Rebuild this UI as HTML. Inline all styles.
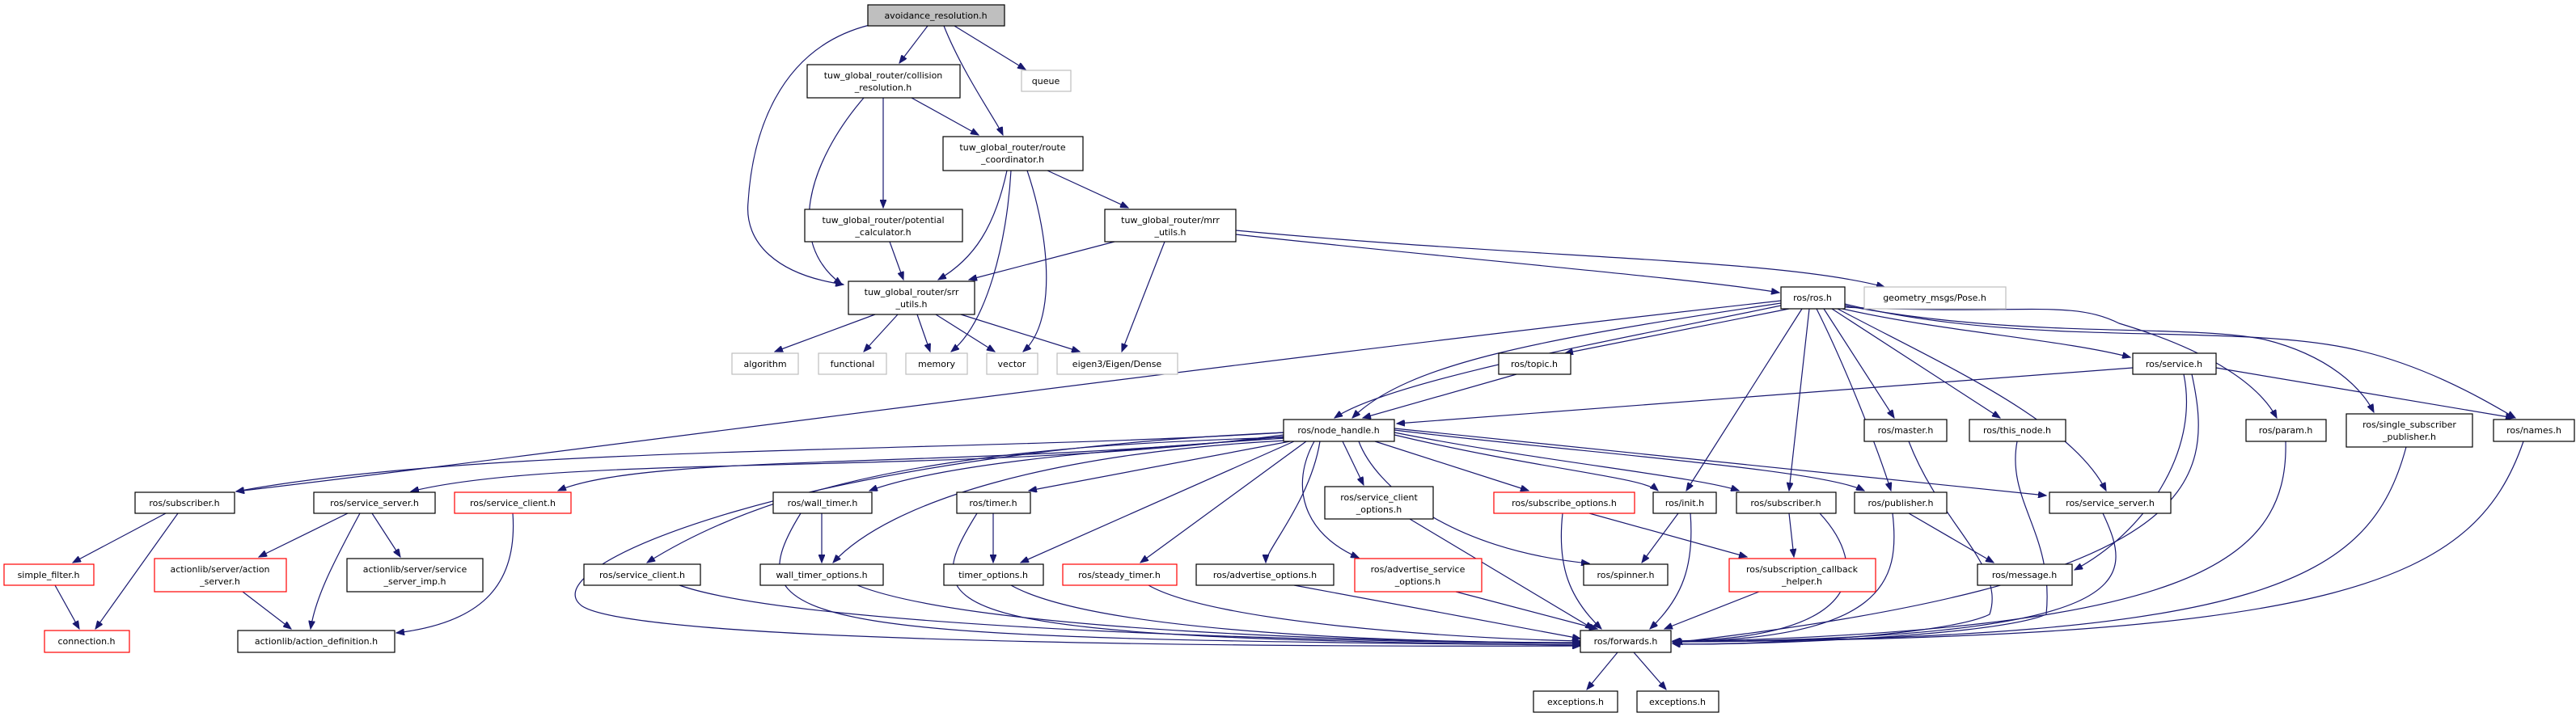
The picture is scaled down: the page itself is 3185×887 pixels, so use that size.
<!DOCTYPE html>
<html><head><meta charset="utf-8"><style>
html,body{margin:0;padding:0;background:#fff;}
svg{display:block;}
text{font-family:"DejaVu Sans","Liberation Sans",sans-serif;font-size:11px;fill:#000;text-anchor:middle;}
.n{fill:#fff;stroke:#000;stroke-width:1.2;}
.g{fill:#fff;stroke:#bfbfbf;stroke-width:1.2;}
.r{fill:#fff;stroke:#ff0000;stroke-width:1.2;}
.e{fill:none;stroke:#191970;stroke-width:1.2;}
</style></head><body>
<svg width="3185" height="887" viewBox="0 0 3185 887" xmlns="http://www.w3.org/2000/svg">
<defs><marker id="a" markerWidth="11" markerHeight="8" refX="10" refY="4" orient="auto" markerUnits="userSpaceOnUse"><path d="M0,0 L10,4 L0,8 z" fill="#191970" stroke="#191970"/></marker></defs>
<g marker-end="url(#a)">
<path class="e" d="M1075,31 C960,60 930,170 925,250 C920,300 960,340 1043,352"/>
<path class="e" d="M1147,32 L1112,78"/>
<path class="e" d="M1167,32 C1190,90 1232,150 1240,167"/>
<path class="e" d="M1180,32 L1268,86"/>
<path class="e" d="M1068,121 C1000,200 970,300 1041,352"/>
<path class="e" d="M1092,121 L1092,257"/>
<path class="e" d="M1127,121 L1210,167"/>
<path class="e" d="M1245,211 C1230,280 1205,320 1160,346"/>
<path class="e" d="M1250,211 C1245,300 1220,400 1176,435"/>
<path class="e" d="M1270,211 C1300,300 1305,400 1265,435"/>
<path class="e" d="M1295,211 L1395,257"/>
<path class="e" d="M1100,299 L1117,346"/>
<path class="e" d="M1378,299 L1198,346"/>
<path class="e" d="M1440,299 L1387,435"/>
<path class="e" d="M1528,290 C1800,320 2100,345 2200,362"/>
<path class="e" d="M1528,285 C1900,320 2200,320 2330,355"/>
<path class="e" d="M1082,389 L958,435"/>
<path class="e" d="M1110,389 L1068,435"/>
<path class="e" d="M1134,389 L1150,435"/>
<path class="e" d="M1157,389 L1230,435"/>
<path class="e" d="M1188,389 L1335,435"/>
<path class="e" d="M2202,372 C1500,450 700,560 292,608"/>
<path class="e" d="M2202,375 C1900,420 1740,450 1672,517"/>
<path class="e" d="M2202,378 C2000,420 1720,470 1650,517"/>
<path class="e" d="M2212,382 L1935,437"/>
<path class="e" d="M2228,382 L2085,607"/>
<path class="e" d="M2237,382 L2212,607"/>
<path class="e" d="M2246,382 C2280,450 2320,550 2338,607"/>
<path class="e" d="M2255,382 L2342,517"/>
<path class="e" d="M2265,382 L2473,517"/>
<path class="e" d="M2272,382 C2400,450 2560,520 2604,607"/>
<path class="e" d="M2278,382 C2400,410 2550,420 2634,442"/>
<path class="e" d="M2281,380 C2500,390 2560,370 2620,400 C2720,430 2790,470 2815,517"/>
<path class="e" d="M2281,378 C2500,420 2700,400 2800,420 C2880,440 2920,480 2935,510"/>
<path class="e" d="M2281,376 C2500,430 2750,400 2900,430 C3000,450 3080,500 3110,517"/>
<path class="e" d="M1875,463 L1685,517"/>
<path class="e" d="M2637,455 L1727,524"/>
<path class="e" d="M2700,463 C2720,560 2650,660 2565,705"/>
<path class="e" d="M2710,463 C2740,600 2720,720 2070,795"/>
<path class="e" d="M2740,455 L3108,517"/>
<path class="e" d="M2360,546 C2400,650 2480,700 2460,760 C2400,790 2100,800 2068,796"/>
<path class="e" d="M2494,546 C2480,620 2540,660 2530,760 C2460,790 2100,800 2068,796"/>
<path class="e" d="M2826,546 C2830,700 2700,780 2068,794"/>
<path class="e" d="M2975,553 C2930,720 2800,790 2068,794"/>
<path class="e" d="M3120,546 C3060,720 2900,790 2068,794"/>
<path class="e" d="M2600,635 C2640,720 2650,790 2068,794"/>
<path class="e" d="M2340,635 C2350,720 2330,790 2068,794"/>
<path class="e" d="M2360,635 L2465,696"/>
<path class="e" d="M2212,635 L2218,689"/>
<path class="e" d="M2250,635 C2310,700 2310,790 2068,793"/>
<path class="e" d="M2175,732 L2058,778"/>
<path class="e" d="M2075,635 L2030,696"/>
<path class="e" d="M2090,635 C2095,700 2080,740 2040,778"/>
<path class="e" d="M1932,635 C1925,700 1940,740 1980,778"/>
<path class="e" d="M1965,635 L2160,689"/>
<path class="e" d="M1800,732 L1975,778"/>
<path class="e" d="M1743,642 L1970,778"/>
<path class="e" d="M1600,724 L1954,790"/>
<path class="e" d="M1420,724 C1500,770 1800,790 1954,793"/>
<path class="e" d="M1250,724 C1350,780 1700,795 1954,795"/>
<path class="e" d="M1060,724 C1200,780 1700,795 1954,795"/>
<path class="e" d="M840,724 C1000,780 1700,795 1954,796"/>
<path class="e" d="M990,635 C900,780 1000,790 1954,798"/>
<path class="e" d="M1208,635 C1130,760 1150,790 1954,798"/>
<path class="e" d="M1016,635 L1016,696"/>
<path class="e" d="M1228,635 L1228,696"/>
<path class="e" d="M1590,535 C1000,560 650,700 720,750 C800,800 1700,800 1954,799"/>
<path class="e" d="M1587,541 C1300,550 1000,570 800,696"/>
<path class="e" d="M1590,545 C1300,560 1100,620 1030,696"/>
<path class="e" d="M1600,546 L1262,696"/>
<path class="e" d="M1615,546 L1410,696"/>
<path class="e" d="M1632,546 C1620,620 1565,680 1565,696"/>
<path class="e" d="M1625,546 C1595,600 1610,660 1680,690"/>
<path class="e" d="M1660,546 L1686,600"/>
<path class="e" d="M1680,546 C1700,600 1790,680 1965,697"/>
<path class="e" d="M1700,546 L1890,607"/>
<path class="e" d="M1724,538 C1900,580 2030,590 2050,607"/>
<path class="e" d="M1724,535 C1900,570 2100,590 2150,607"/>
<path class="e" d="M1724,532 C1950,560 2250,580 2305,607"/>
<path class="e" d="M1724,530 L2530,613"/>
<path class="e" d="M1587,535 C1200,560 600,550 292,608"/>
<path class="e" d="M1587,538 C1200,590 700,560 508,608"/>
<path class="e" d="M1587,540 C1200,580 800,560 690,607"/>
<path class="e" d="M1590,542 C1300,560 1150,580 1075,607"/>
<path class="e" d="M1595,546 L1272,607"/>
<path class="e" d="M205,635 L90,696"/>
<path class="e" d="M220,635 L118,778"/>
<path class="e" d="M68,724 L98,778"/>
<path class="e" d="M430,635 L320,689"/>
<path class="e" d="M445,635 C410,700 390,740 384,778"/>
<path class="e" d="M460,635 L495,689"/>
<path class="e" d="M634,635 C640,720 600,770 490,783"/>
<path class="e" d="M300,732 L360,778"/>
<path class="e" d="M2000,807 L1962,853"/>
<path class="e" d="M2020,807 L2060,853"/>
</g>
<!-- nodes -->
<rect x="1073" y="6" width="169" height="26" fill="#bfbfbf" stroke="#000" stroke-width="1.2"/><text x="1157" y="23">avoidance_resolution.h</text>
<rect class="n" x="998" y="80" width="189" height="41"/><text x="1092" y="97">tuw_global_router/collision</text><text x="1092" y="112">_resolution.h</text>
<rect class="g" x="1263" y="87" width="61" height="26"/><text x="1293" y="104">queue</text>
<rect class="n" x="1166" y="169" width="173" height="42"/><text x="1252" y="186">tuw_global_router/route</text><text x="1252" y="201">_coordinator.h</text>
<rect class="n" x="995" y="259" width="195" height="40"/><text x="1092" y="276">tuw_global_router/potential</text><text x="1092" y="291">_calculator.h</text>
<rect class="n" x="1366" y="259" width="162" height="40"/><text x="1447" y="276">tuw_global_router/mrr</text><text x="1447" y="291">_utils.h</text>
<rect class="n" x="1049" y="348" width="156" height="41"/><text x="1127" y="365">tuw_global_router/srr</text><text x="1127" y="380">_utils.h</text>
<rect class="g" x="905" y="437" width="82" height="26"/><text x="946" y="454">algorithm</text>
<rect class="g" x="1012" y="437" width="84" height="26"/><text x="1054" y="454">functional</text>
<rect class="g" x="1120" y="437" width="76" height="26"/><text x="1158" y="454">memory</text>
<rect class="g" x="1220" y="437" width="63" height="26"/><text x="1251" y="454">vector</text>
<rect class="g" x="1307" y="437" width="149" height="26"/><text x="1381" y="454">eigen3/Eigen/Dense</text>
<rect class="n" x="2202" y="355" width="79" height="27"/><text x="2241" y="372">ros/ros.h</text>
<rect class="g" x="2305" y="355" width="175" height="27"/><text x="2392" y="372">geometry_msgs/Pose.h</text>
<rect class="n" x="1853" y="437" width="89" height="26"/><text x="1897" y="454">ros/topic.h</text>
<rect class="n" x="2637" y="437" width="103" height="26"/><text x="2688" y="454">ros/service.h</text>
<rect class="n" x="1587" y="519" width="137" height="27"/><text x="1655" y="536">ros/node_handle.h</text>
<rect class="n" x="2305" y="519" width="102" height="27"/><text x="2356" y="536">ros/master.h</text>
<rect class="n" x="2435" y="519" width="119" height="27"/><text x="2494" y="536">ros/this_node.h</text>
<rect class="n" x="2777" y="519" width="99" height="27"/><text x="2826" y="536">ros/param.h</text>
<rect class="n" x="2901" y="512" width="156" height="41"/><text x="2979" y="529">ros/single_subscriber</text><text x="2979" y="544">_publisher.h</text>
<rect class="n" x="3083" y="519" width="100" height="27"/><text x="3133" y="536">ros/names.h</text>
<rect class="n" x="167" y="609" width="123" height="26"/><text x="228" y="626">ros/subscriber.h</text>
<rect class="n" x="388" y="609" width="150" height="26"/><text x="463" y="626">ros/service_server.h</text>
<rect class="r" x="562" y="609" width="144" height="26"/><text x="634" y="626">ros/service_client.h</text>
<rect class="n" x="956" y="609" width="122" height="26"/><text x="1017" y="626">ros/wall_timer.h</text>
<rect class="n" x="1183" y="609" width="91" height="26"/><text x="1228" y="626">ros/timer.h</text>
<rect class="n" x="1638" y="602" width="134" height="40"/><text x="1705" y="619">ros/service_client</text><text x="1705" y="634">_options.h</text>
<rect class="r" x="1847" y="609" width="174" height="26"/><text x="1934" y="626">ros/subscribe_options.h</text>
<rect class="n" x="2044" y="609" width="78" height="26"/><text x="2083" y="626">ros/init.h</text>
<rect class="n" x="2147" y="609" width="123" height="26"/><text x="2208" y="626">ros/subscriber.h</text>
<rect class="n" x="2293" y="609" width="114" height="26"/><text x="2350" y="626">ros/publisher.h</text>
<rect class="n" x="2534" y="609" width="150" height="26"/><text x="2609" y="626">ros/service_server.h</text>
<rect class="r" x="5" y="698" width="111" height="26"/><text x="60" y="715">simple_filter.h</text>
<rect class="r" x="191" y="691" width="163" height="41"/><text x="272" y="708">actionlib/server/action</text><text x="272" y="723">_server.h</text>
<rect class="n" x="429" y="691" width="168" height="41"/><text x="513" y="708">actionlib/server/service</text><text x="513" y="723">_server_imp.h</text>
<rect class="n" x="722" y="698" width="144" height="26"/><text x="794" y="715">ros/service_client.h</text>
<rect class="n" x="940" y="698" width="152" height="26"/><text x="1016" y="715">wall_timer_options.h</text>
<rect class="n" x="1167" y="698" width="123" height="26"/><text x="1228" y="715">timer_options.h</text>
<rect class="r" x="1314" y="698" width="141" height="26"/><text x="1384" y="715">ros/steady_timer.h</text>
<rect class="n" x="1479" y="698" width="170" height="26"/><text x="1564" y="715">ros/advertise_options.h</text>
<rect class="r" x="1675" y="691" width="157" height="41"/><text x="1753" y="708">ros/advertise_service</text><text x="1753" y="723">_options.h</text>
<rect class="n" x="1958" y="698" width="104" height="26"/><text x="2010" y="715">ros/spinner.h</text>
<rect class="r" x="2138" y="691" width="181" height="41"/><text x="2228" y="708">ros/subscription_callback</text><text x="2228" y="723">_helper.h</text>
<rect class="n" x="2445" y="698" width="117" height="26"/><text x="2503" y="715">ros/message.h</text>
<rect class="r" x="55" y="780" width="105" height="27"/><text x="107" y="797">connection.h</text>
<rect class="n" x="294" y="780" width="194" height="27"/><text x="391" y="797">actionlib/action_definition.h</text>
<rect class="n" x="1954" y="780" width="112" height="27"/><text x="2010" y="797">ros/forwards.h</text>
<rect class="n" x="1896" y="855" width="104" height="26"/><text x="1948" y="872">exceptions.h</text>
<rect class="n" x="2024" y="855" width="101" height="26"/><text x="2074" y="872">exceptions.h</text>
</svg>
</body></html>
